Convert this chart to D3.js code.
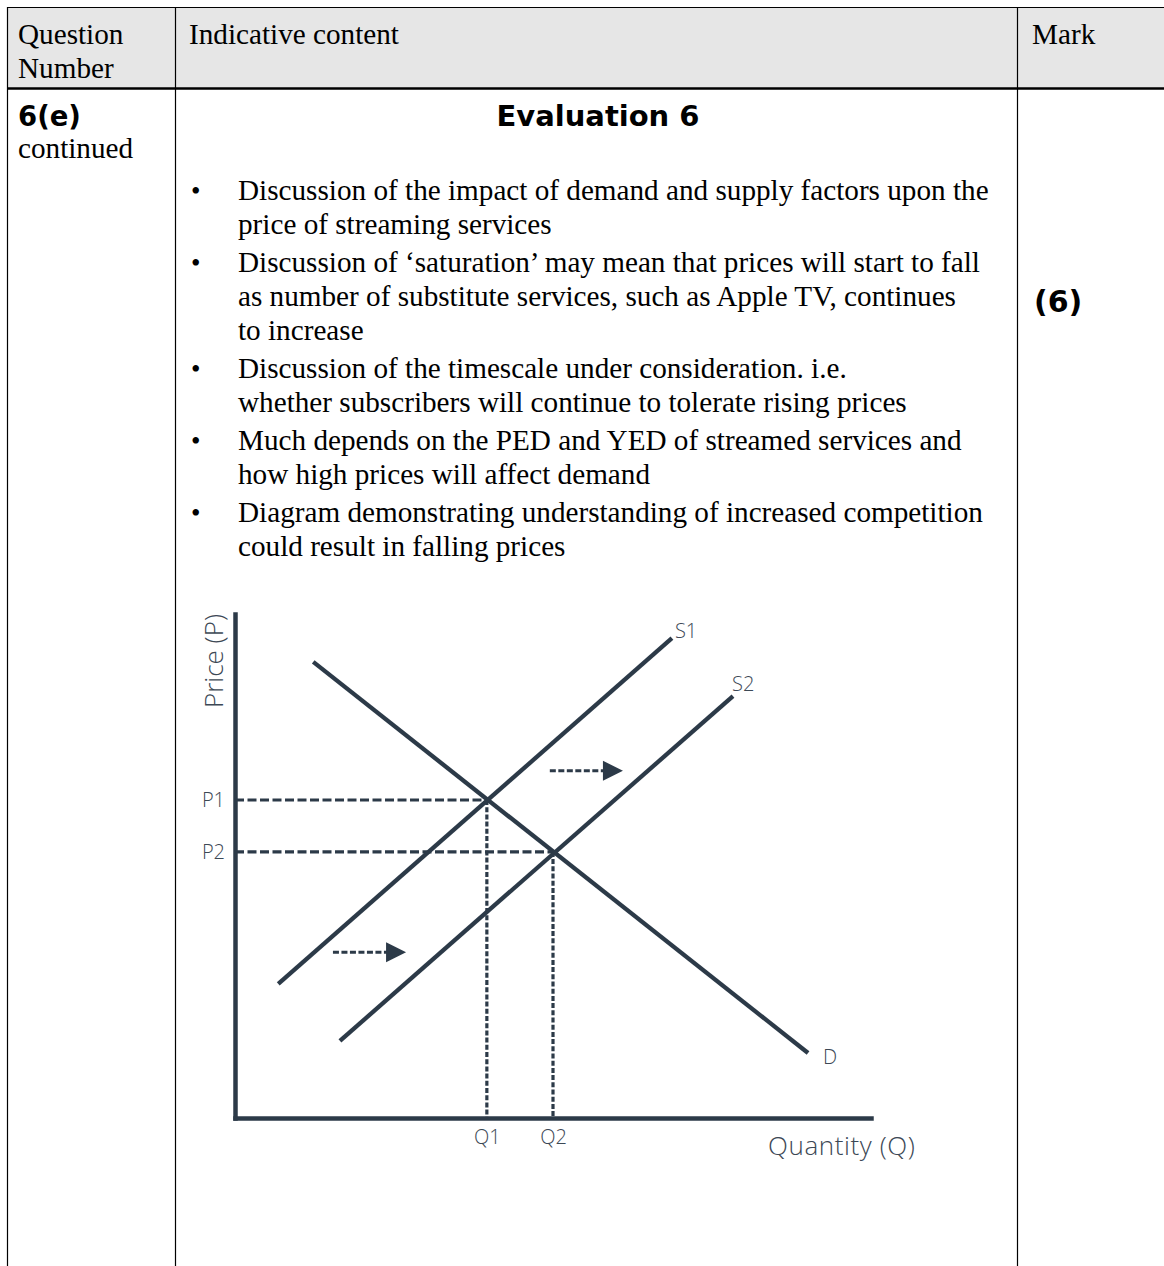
<!DOCTYPE html>
<html>
<head>
<meta charset="utf-8">
<script src="https://cdn.jsdelivr.net/npm/d3@7"></script>
<style>
  html, body { margin: 0; padding: 0; background: #fff; }
  svg { display: block; }
</style>
</head>
<body>
<svg id="page" width="1164" height="1266"></svg>
<script>
// ---------- DATA ----------
const headerLabels = ["Question", "Number", "Indicative content", "Mark"];
const questionId = "6(e)";
const questionNote = "continued";
const sectionTitle = "Evaluation 6";
const markValue = "(6)";
const bullets = [
  ["Discussion of the impact of demand and supply factors upon the", "price of streaming services"],
  ["Discussion of \u2018saturation\u2019 may mean that prices will start to fall", "as number of substitute services, such as Apple TV, continues", "to increase"],
  ["Discussion of the timescale under consideration. i.e.", "whether subscribers will continue to tolerate rising prices"],
  ["Much depends on the PED and YED of streamed services and", "how high prices will affect demand"],
  ["Diagram demonstrating understanding of increased competition", "could result in falling prices"]
];

// diagram values (quantity / price on a 0-100 scale)
const demandD = [{q: 12.3, p: 90.5}, {q: 90.1, p: 12.9}];
const supplyS1 = [{q: 6.8, p: 26.6}, {q: 68.7, p: 95.2}];
const supplyS2 = [{q: 16.5, p: 15.3}, {q: 78.3, p: 83.7}];
const curveNames = ["D", "S1", "S2"];
const priceLevels = [63.1, 52.8];
const quantityLevels = [39.6, 50.0];
const priceLabels = ["P1", "P2"];
const quantityLabels = ["Q1", "Q2"];
const shiftArrows = [{q0: 49.5, q1: 61.0, p: 68.9}, {q0: 15.4, q1: 26.9, p: 32.9}];
const axisTitles = ["Price (P)", "Quantity (Q)"];

// ---------- TABLE ----------
const svg = d3.select("#page");
const W = 1164, H = 1266;
const serif = "'Liberation Serif', 'Times New Roman', serif";
const sansBold = "'DejaVu Sans', Verdana, sans-serif";
const bodySize = 29.2;

svg.append("rect").attr("width", W).attr("height", H).attr("fill", "#fff");
svg.append("rect").attr("x", 8).attr("y", 8).attr("width", W - 8).attr("height", 80).attr("fill", "#e6e6e6");

const lines = svg.append("g").attr("stroke", "#000");
lines.append("line").attr("x1", 7).attr("x2", W).attr("y1", 7.5).attr("y2", 7.5).attr("stroke-width", 1.2);
lines.append("line").attr("x1", 7.5).attr("x2", 7.5).attr("y1", 7).attr("y2", H).attr("stroke-width", 1.2);
lines.append("line").attr("x1", 175.5).attr("x2", 175.5).attr("y1", 7).attr("y2", H).attr("stroke-width", 1.2);
lines.append("line").attr("x1", 1017.5).attr("x2", 1017.5).attr("y1", 7).attr("y2", H).attr("stroke-width", 1.2);
lines.append("line").attr("x1", 7).attr("x2", W).attr("y1", 88.5).attr("y2", 88.5).attr("stroke-width", 2.4);

const txt = svg.append("g").attr("fill", "#000");
function t(x, y, s, font, size, weight, anchor) {
  return txt.append("text").attr("x", x).attr("y", y).text(s)
    .attr("font-family", font).attr("font-size", size)
    .attr("font-weight", weight || "normal").attr("text-anchor", anchor || "start");
}
t(18, 44, headerLabels[0], serif, bodySize);
t(18, 78, headerLabels[1], serif, bodySize);
t(189, 44, headerLabels[2], serif, bodySize);
t(1032, 44, headerLabels[3], serif, bodySize);

t(18, 126, questionId, sansBold, 27.5, "bold");
t(18, 158, questionNote, serif, bodySize);
t(598, 126, sectionTitle, sansBold, 29, "bold", "middle");
t(1034, 312, markValue, sansBold, 30, "bold");

let yb = 200;
bullets.forEach((b, i) => {
  if (i > 0) yb += 38;
  t(191, yb, "\u2022", serif, 27);
  b.forEach((ln, j) => {
    if (j > 0) yb += 34;
    t(238, yb, ln, serif, bodySize);
  });
});

// ---------- DIAGRAM ----------
const ink = "#2c3a48";
const labelInk = "#3c4855";
const labelFont = "'Open Sans', 'Noto Sans', sans-serif";
const x = d3.scaleLinear().domain([0, 100]).range([235, 871]);
const y = d3.scaleLinear().domain([0, 100]).range([1118, 614]);
const g = svg.append("g");

// guides
const guides = g.append("g").attr("stroke", ink).attr("stroke-width", 3.2).attr("fill", "none");
priceLevels.forEach((p, i) => {
  guides.append("line").attr("x1", x(0)).attr("x2", x(quantityLevels[i])).attr("y1", y(p)).attr("y2", y(p))
    .attr("stroke-dasharray", "9,3.5");
  guides.append("line").attr("x1", x(quantityLevels[i])).attr("x2", x(quantityLevels[i])).attr("y1", y(p)).attr("y2", y(0))
    .attr("stroke-dasharray", "5,2.2");
});

// curves
const lineGen = d3.line().x(d => x(d.q)).y(d => y(d.p));
[demandD, supplyS1, supplyS2].forEach(c => {
  g.append("path").datum(c).attr("d", lineGen).attr("fill", "none").attr("stroke", ink).attr("stroke-width", 4.3);
});

// axes
const yAxis = d3.axisLeft(y).tickValues(priceLevels).tickFormat((d, i) => priceLabels[i]).tickSize(0).tickSizeOuter(0).tickPadding(10);
const xAxis = d3.axisBottom(x).tickValues(quantityLevels).tickFormat((d, i) => quantityLabels[i]).tickSize(0).tickSizeOuter(0).tickPadding(12);
const ya = g.append("g").attr("transform", `translate(${x(0)},0)`).call(yAxis);
const xa = g.append("g").attr("transform", `translate(0,${y(0)})`).call(xAxis);
[ya, xa].forEach(a => {
  a.select(".domain").attr("stroke", ink).attr("stroke-width", 4.5).attr("stroke-linecap", "square");
  a.selectAll("text").attr("fill", labelInk).attr("font-family", labelFont).attr("font-size", 20).attr("font-weight", 300);
});

// shift arrows
shiftArrows.forEach(a => {
  const x0 = x(a.q0), x1 = x(a.q1), yy = y(a.p);
  g.append("line").attr("x1", x0).attr("x2", x1 - 18).attr("y1", yy).attr("y2", yy)
    .attr("stroke", ink).attr("stroke-width", 3).attr("stroke-dasharray", "6,2.5");
  g.append("path").attr("d", `M${x1 - 20},${yy - 10}L${x1},${yy}L${x1 - 20},${yy + 10}Z`).attr("fill", ink);
});

// curve labels
const ends = [demandD[1], supplyS1[1], supplyS2[1]];
const offs = [[15, 11], [3, 0], [-1, -5]];
ends.forEach((e, i) => {
  g.append("text").attr("x", x(e.q) + offs[i][0]).attr("y", y(e.p) + offs[i][1]).text(curveNames[i])
    .attr("fill", labelInk).attr("font-family", labelFont).attr("font-size", 20).attr("font-weight", 300);
});

// axis titles
g.append("text").attr("transform", `translate(223,661) rotate(-90)`).attr("text-anchor", "middle")
  .text(axisTitles[0]).attr("fill", labelInk).attr("font-family", labelFont).attr("font-size", 26).attr("font-weight", 300);
g.append("text").attr("x", 768).attr("y", 1155).text(axisTitles[1])
  .attr("fill", labelInk).attr("font-family", labelFont).attr("font-size", 26).attr("font-weight", 300)
  .attr("letter-spacing", 0.6);
</script>
</body>
</html>
